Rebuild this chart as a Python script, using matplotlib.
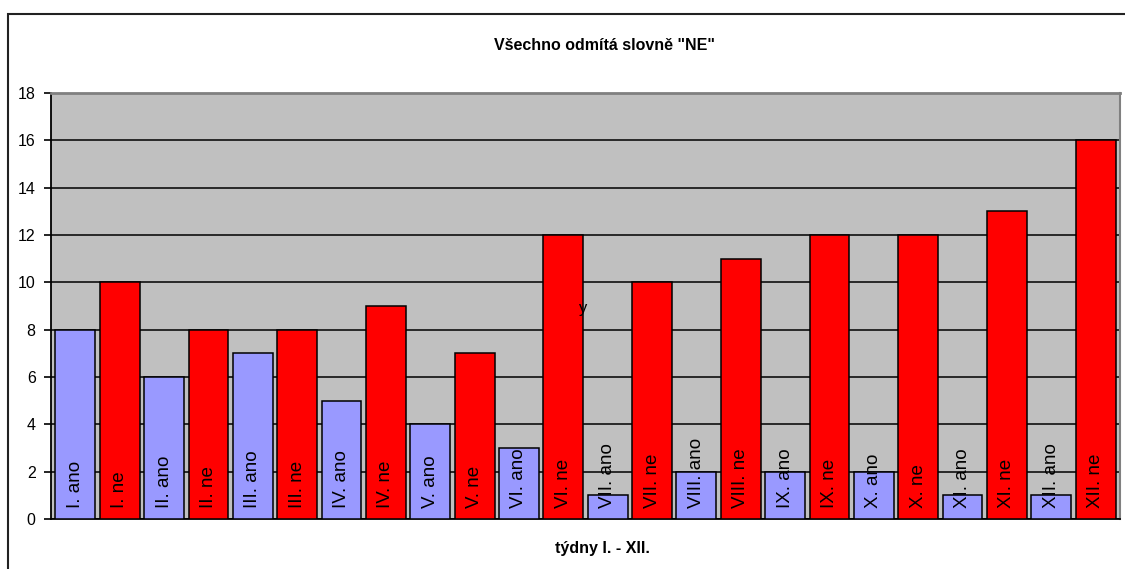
import matplotlib
matplotlib.use("Agg")
import matplotlib.pyplot as plt
from matplotlib.patches import Rectangle

# data
labels = ["I. ano", "I. ne", "II. ano", "II. ne", "III. ano", "III. ne",
          "IV. ano", "IV. ne", "V. ano", "V. ne", "VI. ano", "VI. ne",
          "VII. ano", "VII. ne", "VIII. ano", "VIII. ne", "IX. ano", "IX. ne",
          "X. ano", "X. ne", "XI. ano", "XI. ne", "XII. ano", "XII. ne"]
values = [8, 10, 6, 8, 7, 8, 5, 9, 4, 7, 3, 12,
          1, 10, 2, 11, 2, 12, 2, 12, 1, 13, 1, 16]
yticks = [0, 2, 4, 6, 8, 10, 12, 14, 16, 18]

plt.rcParams["font.family"] = ["Liberation Sans", "DejaVu Sans"]

fig = plt.figure(figsize=(11.25, 5.69), dpi=100, facecolor="w")
# chart border (Excel chart area)
fig.patches.append(Rectangle((8 / 1125, -0.1), 1.2, 1 - 14 / 569 + 0.1,
                             transform=fig.transFigure, fill=False,
                             edgecolor="#222222", linewidth=1.5))

ax = fig.add_axes([51 / 1125, 1 - 519 / 569, (1120 - 51) / 1125, (519 - 93) / 569])
ax.set_facecolor("#C0C0C0")

colors = ["#9999FF" if l.endswith("ano") else "#FF0000" for l in labels]
x = list(range(len(labels)))
ax.set_axisbelow(True)
ax.yaxis.grid(True, color="black", linewidth=1.1)
ax.bar(x, values, width=0.9, color=colors, edgecolor="black", linewidth=1.1, zorder=3)

for xi, lab in zip(x, labels):
    ax.text(xi, 0.45, lab, rotation=90, ha="center", va="bottom",
            fontsize=13.5, color="black", zorder=4)

# stray label in the original
ax.text(11.45, 8.7, "y", ha="center", va="baseline", fontsize=12, zorder=4)

ax.set_xlim(-0.55, len(labels) - 0.45)
ax.set_ylim(0, 18)
ax.set_yticks(yticks)
ax.tick_params(axis="y", direction="out", length=5, width=1.2, labelsize=11.5, pad=6)
ax.set_xticks([])

ax.spines["top"].set_color("#808080")
ax.spines["top"].set_linewidth(2)
ax.spines["right"].set_color("#808080")
ax.spines["right"].set_linewidth(1.5)
ax.spines["left"].set_linewidth(1.3)
ax.spines["bottom"].set_linewidth(1.3)

fig.text(604 / 1125, 1 - 45 / 569, "Všechno odmítá slovně \"NE\"", ha="center", va="center",
         fontsize=11.5, fontweight="bold")
fig.text(602 / 1125, 1 - 549 / 569, "týdny I. - XII.", ha="center", va="center",
         fontsize=11.5, fontweight="bold")

plt.savefig("out.png", dpi=100)
plt.close()
